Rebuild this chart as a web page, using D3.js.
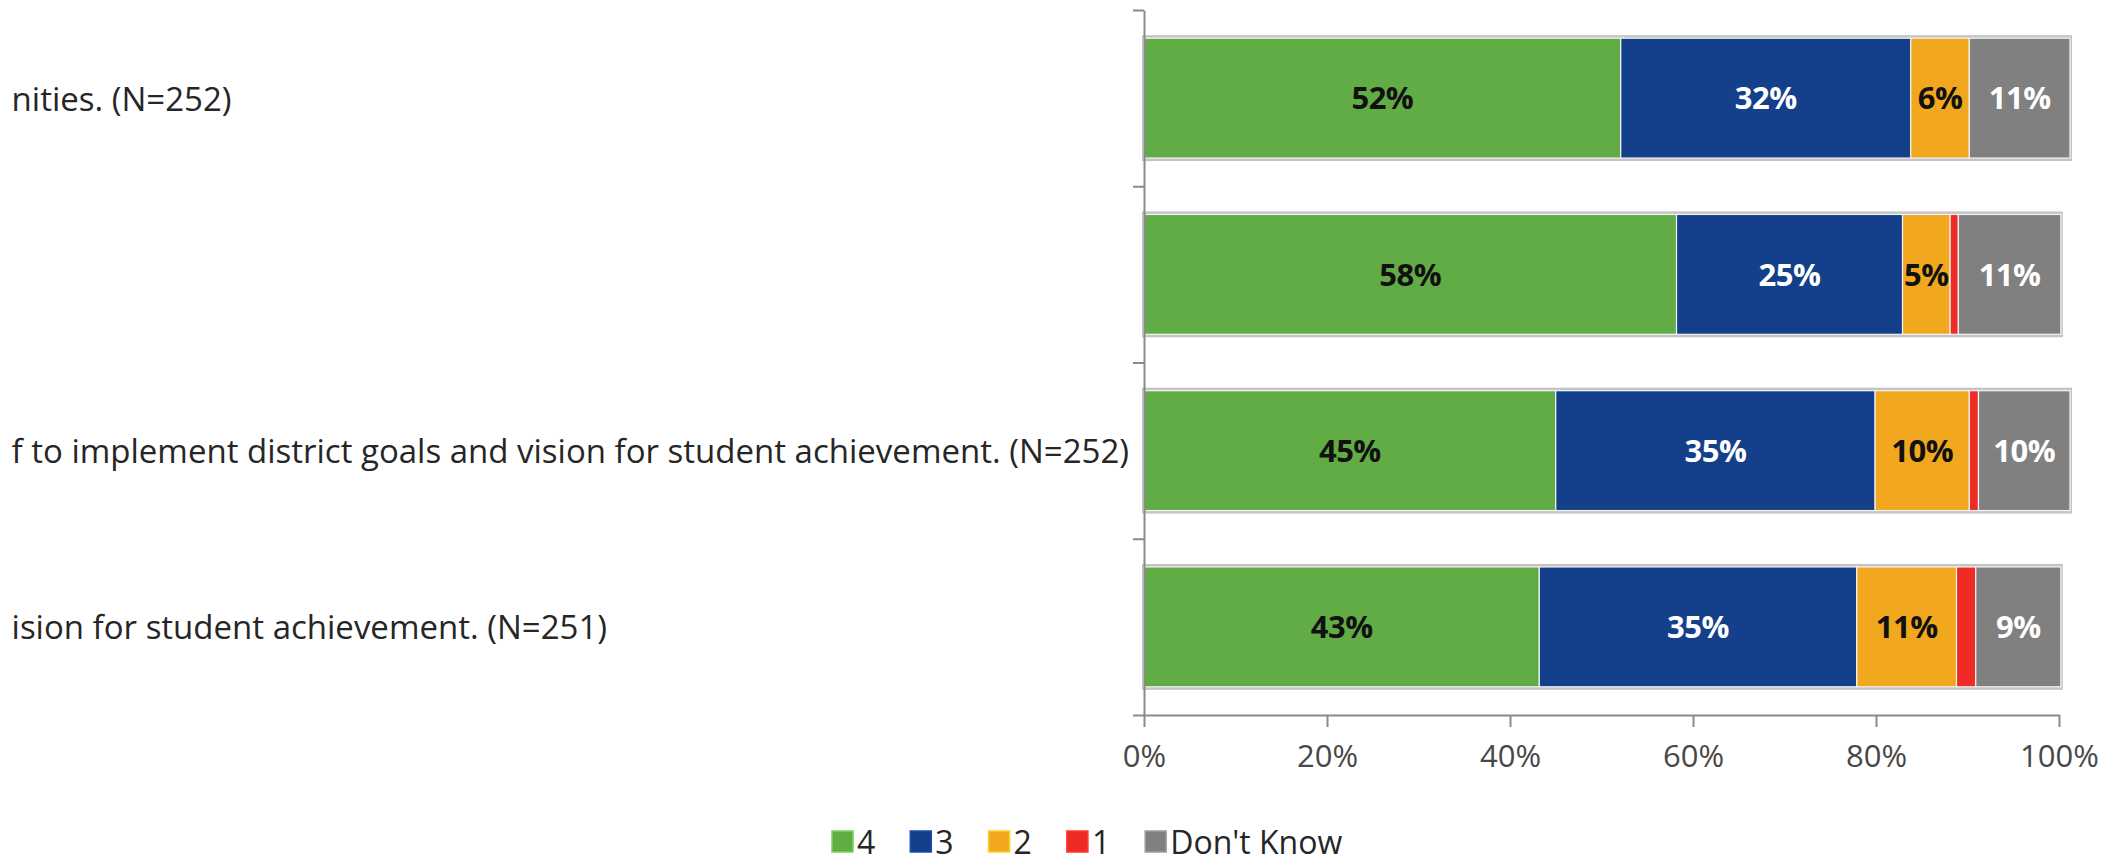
<!DOCTYPE html>
<html><head><meta charset="utf-8">
<script src="https://cdn.jsdelivr.net/npm/d3@7"></script>
<style>html,body{margin:0;padding:0;background:#fff;overflow:hidden}</style>
</head><body><svg id="chart" width="2121" height="862"></svg>
<script>
// Category labels as visible in the (left-cropped) reference
const categories = [
  "nities. (N=252)",
  "",
  "f to implement district goals and vision for student achievement. (N=252)",
  "ision for student achievement. (N=251)"
];
const seriesNames = ["4", "3", "2", "1", "Don't Know"];
const s4  = [0.521, 0.582, 0.450, 0.432];
const s3  = [0.317, 0.247, 0.349, 0.347];
const s2  = [0.064, 0.052, 0.103, 0.109];
const s1  = [0.000, 0.009, 0.010, 0.021];
const sDK = [0.110, 0.112, 0.100, 0.093];
const xTickValues = [0, 0.2, 0.4, 0.6, 0.8, 1];
const xTickLabels = ["0%", "20%", "40%", "60%", "80%", "100%"];

const colors = ["#62ac45", "#143f8b", "#f2a81e", "#ee2b24", "#808080"];
const labelColors = ["#111111", "#ffffff", "#111111", null, "#ffffff"];
const FONT = "'Open Sans', 'Noto Sans', sans-serif";

const seriesValues = [s4, s3, s2, s1, sDK];
const rows = categories.map((c, i) => {
  const r = { idx: i, cat: c };
  seriesNames.forEach((k, j) => r[k] = seriesValues[j][i]);
  return r;
});
const stacked = d3.stack().keys(seriesNames)(rows);

const svg = d3.select("#chart");
const x = d3.scaleLinear().domain([0, 1]).range([1144, 2059]);
const y = d3.scaleBand().domain(d3.range(categories.length)).range([10, 715])
  .paddingInner(0.32).paddingOuter(0.16);
const yb = d3.scaleLinear().domain([0, categories.length]).range([10, 715]);

// bar outlines
const totals = rows.map(r => d3.sum(seriesNames, k => r[k]));
svg.append("g").selectAll("rect").data(rows).join("rect")
  .attr("x", x(0) - 2)
  .attr("y", d => y(d.idx) - 3)
  .attr("width", (d, i) => x(totals[i]) - x(0) + 4)
  .attr("height", y.bandwidth() + 6)
  .attr("fill", "#c4c4c4");

// segments
svg.append("g").selectAll("g").data(stacked).join("g")
  .attr("fill", (d, i) => colors[i])
  .selectAll("rect").data(d => d).join("rect")
  .attr("x", d => x(d[0]))
  .attr("y", d => y(d.data.idx))
  .attr("width", d => Math.max(0, x(d[1]) - x(d[0])))
  .attr("height", y.bandwidth())
  .attr("stroke", "#f4f4f4")
  .attr("stroke-width", 1.2);

// data labels
const fmt = d3.format(".0%");
stacked.forEach((s, i) => {
  if (!labelColors[i]) return;
  svg.append("g").selectAll("text").data(s.filter(d => d[1] - d[0] > 0)).join("text")
    .attr("x", d => (x(d[0]) + x(d[1])) / 2)
    .attr("y", d => y(d.data.idx) + y.bandwidth() / 2)
    .attr("dy", "0.36em")
    .attr("text-anchor", "middle")
    .attr("font-family", FONT)
    .attr("font-size", 31)
    .attr("font-weight", 700)
    .attr("letter-spacing", -0.5)
    .attr("fill", labelColors[i])
    .text(d => fmt(d[1] - d[0]));
});

// y axis (category boundaries)
const yAxisG = svg.append("g").attr("transform", `translate(${x(0)},0)`)
  .call(d3.axisLeft(yb).ticks(categories.length).tickFormat("").tickSize(11).tickSizeOuter(0));
yAxisG.selectAll("path,line").attr("stroke", "#8a8a8a").attr("stroke-width", 2);

// x axis
const xAxisG = svg.append("g").attr("transform", "translate(0,715)")
  .call(d3.axisBottom(x).tickValues(xTickValues).tickFormat((d, i) => xTickLabels[i])
    .tickSize(12).tickSizeOuter(0).tickPadding(18));
xAxisG.selectAll("path,line").attr("stroke", "#8a8a8a").attr("stroke-width", 2);
xAxisG.selectAll("text").attr("font-family", FONT).attr("font-size", 31).attr("fill", "#484848");

// category labels: left-aligned within a column as wide as the widest label
const catText = svg.append("g").selectAll("text").data(rows).join("text")
  .attr("y", d => y(d.idx) + y.bandwidth() / 2)
  .attr("dy", "0.38em")
  .attr("font-family", FONT)
  .attr("font-size", 33)
  .attr("fill", "#262626")
  .text(d => d.cat);
const maxW = d3.max(catText.nodes(), n => n.getComputedTextLength());
catText.attr("x", Math.max(4, x(0) - 15 - maxW));

// legend
const leg = svg.append("g").attr("transform", "translate(832,831)");
let lx = 0;
seriesNames.forEach((name, i) => {
  const g = leg.append("g").attr("transform", `translate(${lx},0)`);
  g.append("rect").attr("width", 21).attr("height", 21).attr("fill", colors[i])
    .attr("stroke", d3.color(colors[i]).brighter(0.6)).attr("stroke-width", 1.5);
  const t = g.append("text").attr("x", 25).attr("y", 21).attr("dy", "0.05em")
    .attr("font-family", FONT).attr("font-size", 32).attr("fill", "#262626").text(name);
  lx += 25 + t.node().getComputedTextLength() + 35;
});
</script>
</body></html>
